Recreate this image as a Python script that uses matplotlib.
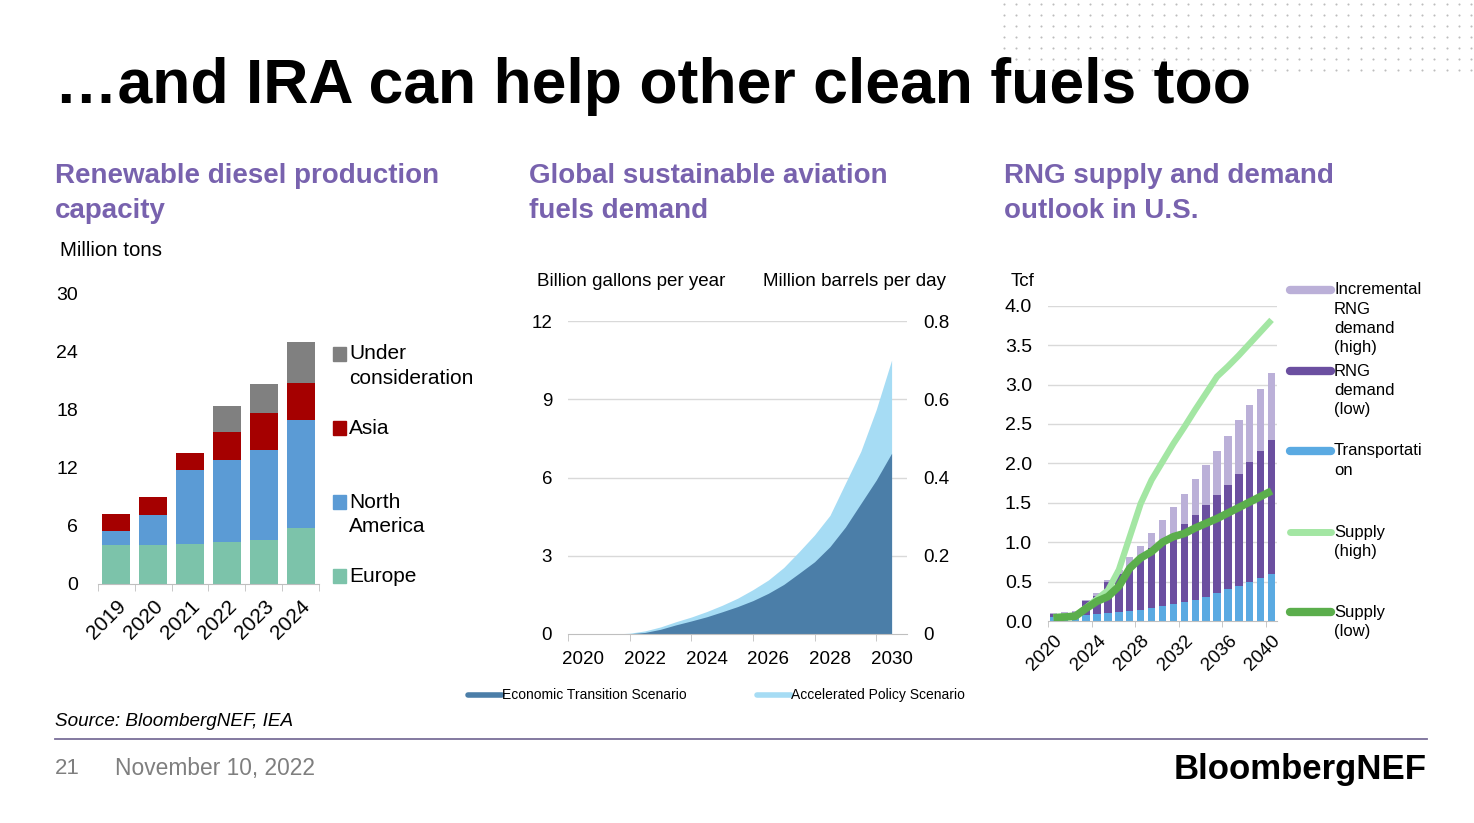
import numpy as np
import matplotlib.pyplot as plt
from matplotlib.lines import Line2D
from matplotlib.patches import Rectangle

plt.rcParams['font.family'] = ['Liberation Sans', 'DejaVu Sans']

W, H = 1474, 823

# --- data: renewable diesel (million tons) ---
rd_years = ['2019', '2020', '2021', '2022', '2023', '2024']
rd_europe = [4.0, 4.0, 4.15, 4.35, 4.55, 5.75]
rd_namerica = [1.45, 3.15, 7.65, 8.45, 9.25, 11.15]
rd_asia = [1.75, 1.8, 1.75, 2.9, 3.8, 3.8]
rd_under = [0, 0, 0, 2.6, 3.05, 4.25]

# --- data: SAF demand (billion gallons per year), half-year readings ---
saf_t = [2020, 2020.5, 2021, 2021.5, 2022, 2022.5, 2023, 2023.5, 2024, 2024.5, 2025,
         2025.5, 2026, 2026.5, 2027, 2027.5, 2028, 2028.5, 2029, 2029.5, 2030]
saf_econ = [0, 0, 0, 0.01, 0.06, 0.18, 0.35, 0.5, 0.66, 0.85, 1.05,
            1.28, 1.56, 1.9, 2.33, 2.77, 3.35, 4.1, 5.0, 5.9, 6.93]
saf_accel = [0, 0, 0, 0.03, 0.12, 0.27, 0.47, 0.65, 0.86, 1.1, 1.37,
             1.7, 2.07, 2.55, 3.16, 3.8, 4.55, 5.78, 7.0, 8.6, 10.5]
saf_labels = ['2020', '2022', '2024', '2026', '2028', '2030']

# --- data: RNG supply and demand (Tcf) ---
rng_years = list(range(2020, 2041))
rng_transport = [0.05, 0.06, 0.07, 0.08, 0.09, 0.10, 0.12, 0.13, 0.14, 0.16, 0.19,
                 0.21, 0.24, 0.27, 0.31, 0.35, 0.40, 0.44, 0.50, 0.55, 0.60]
rng_demand_low = [0.04, 0.04, 0.05, 0.17, 0.23, 0.40, 0.47, 0.56, 0.65, 0.76, 0.81,
                  0.89, 0.99, 1.07, 1.16, 1.25, 1.33, 1.43, 1.52, 1.61, 1.70]
rng_incremental = [0.01, 0.01, 0.01, 0.02, 0.03, 0.02, 0.06, 0.12, 0.16, 0.20, 0.28,
                   0.34, 0.38, 0.46, 0.51, 0.56, 0.62, 0.68, 0.72, 0.78, 0.85]
supply_high = [0.05, 0.06, 0.07, 0.17, 0.28, 0.39, 0.65, 1.07, 1.49, 1.79, 2.02,
               2.25, 2.46, 2.68, 2.89, 3.10, 3.23, 3.37, 3.52, 3.67, 3.82]
supply_low = [0.04, 0.05, 0.06, 0.16, 0.25, 0.31, 0.44, 0.67, 0.80, 0.88, 1.00,
              1.07, 1.11, 1.18, 1.24, 1.30, 1.37, 1.44, 1.51, 1.58, 1.65]

PURPLE = '#7862ae'
GRID = '#d9d9d9'
AXIS = '#bfbfbf'


def fx(px):
    return px / W


def fy(py):
    return 1 - py / H


def axes_px(fig, x0, y0, x1, y1):
    return fig.add_axes([fx(x0), fy(y1), (x1 - x0) / W, (y1 - y0) / H])


fig = plt.figure(figsize=(W / 100, H / 100), dpi=100)

# decorative dot pattern, top right
gx, gy = np.meshgrid(np.arange(1004, 1474, 12.3), np.arange(4, 76, 11))
fig.add_artist(Line2D(fx(gx.ravel()), fy(gy.ravel()), ls='none', marker='o',
                      ms=1.5, mfc='#bdbdbd', mec='none', transform=fig.transFigure))

fig.text(fx(55), fy(103), '\u2026and IRA can help other clean fuels too',
         fontsize=45, weight='bold', va='baseline', color='black')

subtitles = [(55, 'Renewable diesel production', 'capacity'),
             (529, 'Global sustainable aviation', 'fuels demand'),
             (1004, 'RNG supply and demand', 'outlook in U.S.')]
for x, l1, l2 in subtitles:
    fig.text(fx(x), fy(176), l1, fontsize=20, weight='bold', color=PURPLE, va='center')
    fig.text(fx(x), fy(211), l2, fontsize=20, weight='bold', color=PURPLE, va='center')

# ---------------- left: renewable diesel ----------------
ax1 = axes_px(fig, 98, 293, 319, 584)
xi = np.arange(len(rd_years))
bw = 0.76
b = np.zeros(len(xi))
series = [(rd_europe, '#7cc3aa'), (rd_namerica, '#5b9bd5'),
          (rd_asia, '#a50000'), (rd_under, '#808080')]
for vals, c in series:
    ax1.bar(xi, vals, bw, bottom=b, color=c, edgecolor='none')
    b = b + np.array(vals)
ax1.set_xlim(-0.5, len(xi) - 0.5)
ax1.set_ylim(0, 30)
ax1.set_yticks(range(0, 31, 6))
ax1.tick_params(axis='y', length=0, pad=14.5, labelsize=14)
ax1.set_xticks(xi)
ax1.set_xticklabels(rd_years, rotation=45, ha='right', rotation_mode='anchor')
ax1.tick_params(axis='x', length=0, pad=9, labelsize=15)
ax1.set_xticks(np.arange(-0.5, len(xi), 1), minor=True)
ax1.tick_params(axis='x', which='minor', length=5, color=AXIS, direction='out')
for s in ['top', 'right', 'left']:
    ax1.spines[s].set_visible(False)
ax1.spines['bottom'].set_color(AXIS)
fig.text(fx(60), fy(251), 'Million tons', fontsize=14.8, va='center')

left_leg = [('#808080', ['Under', 'consideration'], 354),
            ('#a50000', ['Asia'], 428),
            ('#5b9bd5', ['North', 'America'], 502),
            ('#7cc3aa', ['Europe'], 576)]
for c, lines, y in left_leg:
    fig.add_artist(Rectangle((fx(333), fy(y + 7)), 13 / W, 14 / H, color=c,
                             transform=fig.transFigure))
    for k, t in enumerate(lines):
        fig.text(fx(349), fy(y + 24 * k), t, fontsize=15, va='center')

# ---------------- middle: SAF demand ----------------
ax2 = axes_px(fig, 568, 321, 907, 634)
ax2.fill_between(saf_t, 0, saf_accel, color='#a6dcf4', lw=0)
ax2.fill_between(saf_t, 0, saf_econ, color='#4b7ea8', lw=0)
ax2.set_xlim(2019.5, 2030.5)
ax2.set_ylim(0, 12)
ax2.set_yticks(range(0, 13, 3))
for v in range(3, 13, 3):
    ax2.axhline(v, color=GRID, lw=1, zorder=0)
ax2.set_xticks([int(s) for s in saf_labels])
ax2.set_xticklabels(saf_labels)
ax2.set_xticks(np.arange(2019.5, 2030, 2), minor=True)
ax2.tick_params(axis='x', which='major', length=0, pad=12, labelsize=13.5)
ax2.tick_params(axis='x', which='minor', length=5, color=AXIS)
ax2.tick_params(axis='y', length=0, pad=11.5, labelsize=13.5)
for s in ['top', 'right', 'left']:
    ax2.spines[s].set_visible(False)
ax2.spines['bottom'].set_color(AXIS)
ax2r = ax2.twinx()
ax2r.set_ylim(0, 0.8)
ax2r.set_yticks([0, 0.2, 0.4, 0.6, 0.8])
ax2r.set_yticklabels(['0', '0.2', '0.4', '0.6', '0.8'])
ax2r.tick_params(axis='y', length=0, pad=11.5, labelsize=13.5)
for s in ax2r.spines.values():
    s.set_visible(False)
fig.text(fx(537), fy(281), 'Billion gallons per year', fontsize=13.5, va='center')
fig.text(fx(763), fy(281), 'Million barrels per day', fontsize=13.5, va='center')
for x0, c, t in [(468, '#4b7ea8', 'Economic Transition Scenario'),
                 (757, '#a6dcf4', 'Accelerated Policy Scenario')]:
    fig.add_artist(Line2D([fx(x0), fx(x0 + 34)], [fy(695), fy(695)], color=c, lw=4,
                          solid_capstyle='round', transform=fig.transFigure))
    fig.text(fx(x0 + 34), fy(695), t, fontsize=10, va='center')

# ---------------- right: RNG ----------------
ax3 = axes_px(fig, 1048, 305.7, 1277, 621)
xr = np.arange(len(rng_years))
bw3 = 0.68
b = np.zeros(len(xr))
for vals, c in [(rng_transport, '#5aaae2'), (rng_demand_low, '#6b4fa0'),
                (rng_incremental, '#bbb0d8')]:
    ax3.bar(xr, vals, bw3, bottom=b, color=c, edgecolor='none', zorder=2)
    b = b + np.array(vals)
ax3.plot(xr, supply_high, color='#a3e6a3', lw=4.5, zorder=3, solid_capstyle='butt')
ax3.plot(xr, supply_low, color='#5bae4c', lw=5.5, zorder=4, solid_capstyle='butt')
ax3.set_xlim(-0.5, len(xr) - 0.5)
ax3.set_ylim(0, 4.0)
ax3.set_yticks(np.arange(0, 4.01, 0.5))
ax3.set_yticklabels([f'{v:.1f}' for v in np.arange(0, 4.01, 0.5)])
for v in np.arange(0.5, 4.01, 0.5):
    ax3.axhline(v, color=GRID, lw=1, zorder=0)
ax3.set_xticks(xr[::4])
ax3.set_xticklabels([str(y) for y in rng_years[::4]], rotation=45, ha='right',
                    rotation_mode='anchor')
ax3.set_xticks(np.arange(-0.5, len(xr) - 1, 4), minor=True)
ax3.tick_params(axis='x', which='major', length=0, pad=8, labelsize=13.5)
ax3.tick_params(axis='x', which='minor', length=4, color=AXIS)
ax3.tick_params(axis='y', length=0, pad=11.5, labelsize=14)
for s in ['top', 'right', 'left']:
    ax3.spines[s].set_visible(False)
ax3.spines['bottom'].set_color(AXIS)
fig.text(fx(1011), fy(282), 'Tcf', fontsize=13.5, va='center')

right_leg = [('#bbb0d8', 6, ['Incremental', 'RNG', 'demand', '(high)'], 290),
             ('#6b4fa0', 6, ['RNG', 'demand', '(low)'], 371),
             ('#5aaae2', 6, ['Transportati', 'on'], 451),
             ('#a3e6a3', 5, ['Supply', '(high)'], 532),
             ('#5bae4c', 6, ['Supply', '(low)'], 612)]
for c, lw, lines, y in right_leg:
    fig.add_artist(Line2D([fx(1290), fx(1331)], [fy(y), fy(y)], color=c, lw=lw,
                          solid_capstyle='round', transform=fig.transFigure))
    for k, t in enumerate(lines):
        fig.text(fx(1334), fy(y + 19.3 * k), t, fontsize=12, va='center')

# ---------------- footer ----------------
fig.text(fx(55), fy(721), 'Source: BloombergNEF, IEA', fontsize=13.6, style='italic',
         va='center')
fig.add_artist(Line2D([fx(55), fx(1427)], [fy(739), fy(739)], color='#7a6e99', lw=1.3,
                      transform=fig.transFigure))
fig.text(fx(55), fy(769), '21', fontsize=16, color='#7f7f7f', va='center')
fig.text(fx(115), fy(769), 'November 10, 2022', fontsize=16.4, color='#7f7f7f', va='center')
fig.text(fx(1427), fy(770), 'BloombergNEF', fontsize=25, weight='bold', color='black',
         va='center', ha='right')

fig.savefig('out.png', dpi=100)
